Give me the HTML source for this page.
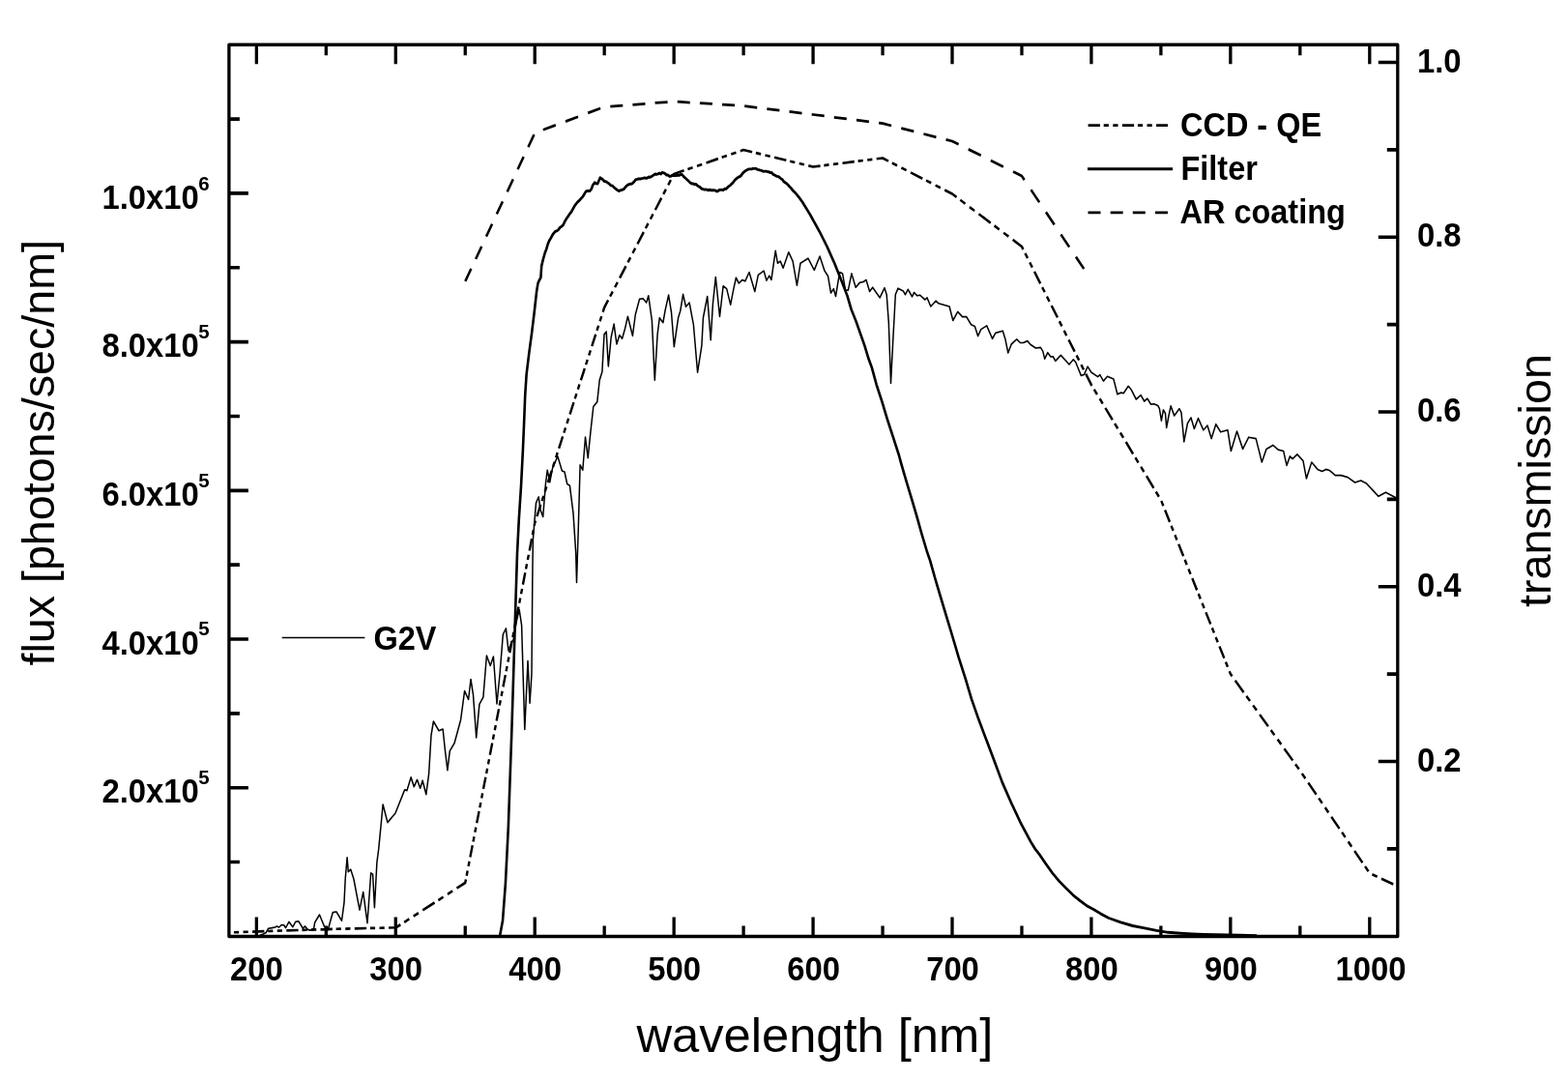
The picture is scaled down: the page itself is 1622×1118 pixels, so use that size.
<!DOCTYPE html>
<html><head><meta charset="utf-8"><title>Flux and transmission vs wavelength</title>
<style>html,body{margin:0;padding:0;background:#fff;}body{width:1622px;height:1118px;overflow:hidden;}svg{display:block}.b{font-family:"Liberation Sans",Arial,Helvetica,sans-serif;font-weight:bold;fill:#000}.r{font-family:"Liberation Sans",Arial,Helvetica,sans-serif;font-weight:normal;fill:#000}</style></head>
<body><svg width="1622" height="1118" viewBox="0 0 1622 1118">
<rect x="0" y="0" width="1622" height="1118" fill="#fff"/>
<g transform="scale(1 1.1050)" fill="none" stroke="#000" stroke-linejoin="round">
<polyline stroke-width="1.5" points="268.50,875.57 271.50,874.57 275.20,872.85 277.60,868.96 281.30,868.42 284.40,867.87 286.30,866.97 288.70,867.87 291.20,865.61 293.70,865.88 295.50,868.42 298.90,862.81 302.90,867.60 305.70,862.81 308.80,862.26 313.40,868.96 315.50,866.97 318.30,870.05 320.80,870.68 324.50,869.50 325.70,863.35 330.50,856.11 335.60,867.33 339.30,870.14 344.30,853.94 348.00,853.39 353.50,861.72 356.00,844.98 357.20,822.62 359.10,802.62 360.30,816.02 362.80,813.76 365.90,822.62 372.00,851.67 375.70,834.93 380.00,863.98 383.70,817.10 385.60,818.19 387.40,849.41 389.90,807.06 391.70,794.75 394.80,765.79 396.10,753.03 400.90,769.77 409.00,761.09 418.60,739.19 421.00,739.91 425.10,727.51 428.30,736.29 431.50,729.77 434.70,737.74 437.10,730.50 440.80,743.53 443.60,724.62 446.00,688.24 448.40,675.11 454.00,683.89 458.10,682.35 460.50,702.81 462.90,721.00 465.30,702.81 470.10,695.48 476.60,673.67 480.60,646.70 484.60,654.75 487.00,635.75 489.50,650.32 492.70,690.41 495.90,659.10 499.90,652.49 503.40,613.57 507.20,623.08 510.40,614.48 514.00,658.82 517.10,630.32 520.30,593.94 523.40,588.14 525.90,609.05 529.10,601.18 531.00,599.10 534.80,579.37 537.20,570.68 539.60,585.16 542.80,682.71 546.00,618.64 548.10,658.01 550.00,630.32 550.80,542.99 551.30,506.33 552.70,490.14 554.50,470.68 557.20,465.07 559.00,477.19 561.70,483.62 564.40,452.94 566.20,440.00 568.80,451.31 571.50,438.37 576.90,427.06 581.40,440.72 584.00,441.63 586.70,452.94 589.40,454.48 593.00,480.45 595.70,517.65 596.50,545.16 598.30,493.39 600.10,435.11 602.80,440.00 605.50,409.23 608.20,428.60 610.90,404.34 613.80,380.54 617.80,376.11 620.20,355.75 622.90,347.96 625.00,313.03 627.20,310.41 629.30,342.81 632.20,315.57 635.10,303.26 637.90,322.08 640.80,313.67 643.60,316.92 646.50,307.78 649.40,296.20 654.40,314.30 657.20,294.84 661.50,280.00 665.10,279.37 668.70,283.26 670.80,276.74 674.40,300.09 677.30,355.75 680.10,313.03 682.30,297.47 685.90,301.99 688.00,290.95 691.60,276.11 694.50,292.31 697.30,324.62 701.60,297.47 703.80,290.95 706.60,275.48 709.50,287.06 713.10,283.26 717.40,303.89 721.60,348.60 725.90,323.35 727.40,297.47 731.70,277.38 735.20,318.19 737.40,284.52 740.30,259.28 744.50,296.20 748.10,267.69 751.70,270.23 755.70,285.16 758.60,271.58 761.40,259.91 764.30,265.16 767.90,261.90 770.80,263.17 775.00,254.75 780.80,272.85 784.30,257.38 790.10,253.48 792.90,262.53 795.80,258.01 797.90,261.90 802.20,234.66 804.40,246.33 807.20,244.43 810.10,250.86 815.80,236.02 820.10,244.43 824.40,267.06 828.00,246.33 835.90,241.81 842.30,252.85 848.00,239.82 853.00,253.48 856.60,258.64 859.50,274.21 862.30,270.32 864.50,277.38 867.40,261.27 868.80,254.75 871.60,256.02 874.50,271.58 877.40,271.58 880.90,256.02 885.20,268.96 889.50,264.43 893.10,263.80 896.00,261.90 899.60,272.85 902.70,268.96 910.20,278.64 915.00,269.41 917.20,275.75 919.30,301.90 921.50,358.73 923.60,321.36 926.30,275.75 929.00,269.86 934.30,272.31 936.50,275.75 939.20,270.86 943.50,277.65 945.60,273.76 948.80,276.74 951.50,276.20 956.90,280.54 959.00,278.64 962.80,286.88 968.10,281.54 970.80,283.98 982.10,286.88 985.80,300.00 990.70,291.76 995.50,296.56 999.80,296.56 1004.60,303.89 1008.40,305.34 1011.60,314.57 1014.80,308.24 1020.70,304.89 1026.60,317.01 1029.80,311.67 1037.30,309.68 1040.00,317.74 1042.80,330.32 1046.20,322.17 1051.70,317.47 1055.40,320.81 1058.50,320.81 1062.80,319.10 1065.90,322.44 1071.40,325.79 1076.40,325.25 1078.80,328.87 1080.70,335.84 1083.80,330.05 1086.90,333.94 1089.30,333.67 1091.80,337.83 1097.30,332.49 1101.70,336.74 1106.00,341.18 1110.30,336.47 1112.70,338.91 1118.30,351.49 1121.40,350.68 1125.10,343.08 1128.80,348.42 1135.60,352.58 1137.80,350.77 1141.40,356.65 1145.50,352.31 1151.90,354.84 1155.90,369.05 1159.20,367.60 1162.40,367.96 1167.20,361.36 1170.40,364.98 1175.30,373.76 1180.10,369.77 1183.70,375.57 1186.90,373.03 1190.60,378.46 1193.80,378.10 1197.80,379.64 1199.40,382.53 1201.40,393.85 1203.40,383.62 1205.50,386.88 1206.70,400.36 1208.70,390.50 1211.10,380.00 1214.70,389.05 1219.90,382.53 1222.00,386.15 1224.80,413.48 1228.40,396.38 1232.00,390.86 1235.40,401.27 1239.50,391.49 1244.90,402.53 1249.00,398.19 1253.10,410.50 1257.80,397.01 1262.60,404.34 1270.00,402.53 1273.40,422.17 1279.50,403.71 1285.60,420.27 1291.70,409.23 1299.20,410.50 1305.30,432.58 1310.00,420.27 1316.80,416.65 1322.20,420.90 1327.70,422.17 1331.00,435.66 1334.40,427.06 1337.10,429.50 1341.90,425.16 1348.00,431.31 1351.40,447.87 1356.80,432.58 1362.90,439.28 1367.70,441.18 1371.70,439.28 1375.80,440.54 1381.20,444.89 1387.30,444.89 1394.10,446.70 1401.60,451.58 1407.70,449.77 1413.10,452.22 1426.00,464.52 1433.40,460.81 1444.50,466.06"/>
<polyline stroke-width="2.6" points="517.10,875.75 520.00,861.81 522.90,826.97 525.80,774.84 527.50,731.22 529.20,687.78 530.70,644.89 532.30,597.29 533.50,561.09 535.00,518.46 536.80,486.06 539.10,453.76 540.90,421.45 542.20,393.67 543.20,370.05 544.60,350.59 547.20,331.13 550.10,311.67 552.70,292.31 555.10,272.85 556.50,265.07 557.95,262.16 559.40,259.73 560.20,248.87 562.00,242.24 563.80,236.56 565.27,233.00 566.73,228.44 568.20,225.25 569.67,223.04 571.13,220.54 572.60,218.46 574.27,216.72 575.93,216.18 577.60,215.02 579.27,212.89 580.93,211.92 582.60,210.50 584.27,207.29 585.93,204.69 587.60,202.62 589.27,200.23 590.93,198.48 592.60,195.75 594.27,192.97 595.93,190.85 597.60,188.96 599.45,187.46 601.30,185.61 603.00,183.96 604.70,181.19 606.40,178.82 608.25,178.68 610.10,178.82 611.77,176.82 613.43,172.90 615.10,170.86 616.65,171.89 618.20,171.95 620.80,166.33 622.23,167.17 623.67,168.08 625.10,169.68 626.77,169.92 628.43,170.93 630.10,171.95 631.77,173.52 633.43,173.80 635.10,175.38 636.80,176.64 638.50,177.87 640.20,178.82 641.87,178.08 643.53,177.74 645.20,177.10 647.70,174.30 649.25,173.12 650.80,172.52 652.35,172.13 653.90,171.95 655.80,170.24 657.70,168.05 659.20,167.72 660.70,167.33 662.20,167.46 663.70,167.05 665.20,166.88 666.70,166.39 668.20,166.84 669.70,166.50 671.20,165.66 672.70,165.79 674.37,164.93 676.03,163.90 677.70,162.90 679.17,163.22 680.63,162.85 682.10,162.07 683.57,162.82 685.03,161.47 686.50,161.81 688.05,162.54 689.60,163.83 691.15,163.85 692.70,165.16 694.03,164.87 695.37,163.99 696.70,164.34 698.17,164.41 699.63,164.37 701.10,163.95 702.57,164.19 704.03,163.26 705.50,163.35 707.06,165.03 708.62,166.30 710.18,167.69 711.74,168.94 713.30,170.41 714.60,171.37 715.90,172.01 717.20,171.87 718.50,172.62 719.80,172.30 721.10,173.39 722.64,174.48 724.18,175.22 725.72,176.51 727.26,177.09 728.80,177.47 730.16,177.33 731.51,177.63 732.87,178.18 734.22,177.46 735.58,178.22 736.93,177.98 738.29,178.07 739.64,178.15 741.00,178.91 742.43,178.99 743.86,177.84 745.29,177.72 746.71,177.63 748.14,178.00 749.57,176.64 751.00,176.92 752.48,175.51 753.97,174.31 755.45,173.42 756.93,171.99 758.42,170.71 759.90,168.87 761.20,167.57 762.50,166.76 763.80,165.69 765.10,165.41 766.40,164.51 767.70,162.90 769.08,161.40 770.45,160.42 771.83,159.48 773.20,158.82 774.60,158.21 776.00,158.31 777.40,158.20 778.80,157.83 780.34,157.81 781.88,157.77 783.42,158.64 784.96,158.88 786.50,159.37 787.98,159.70 789.47,160.46 790.95,160.35 792.43,160.35 793.92,160.73 795.40,160.81 796.83,161.70 798.26,161.50 799.69,163.30 801.11,163.78 802.54,164.55 803.97,165.10 805.40,165.34 806.74,166.30 808.08,167.41 809.42,168.11 810.76,169.94 812.10,170.86 813.64,171.68 815.18,173.10 816.72,174.70 818.26,176.05 819.80,177.92 821.26,179.29 822.71,180.49 824.17,182.01 825.63,183.81 827.09,185.33 828.54,187.27 830.00,189.05 837.90,200.63 847.70,216.65 855.60,230.86 863.50,246.88 871.30,264.71 876.50,276.92 880.60,289.59 885.60,300.90 890.00,312.22 894.40,323.53 898.20,334.93 901.80,343.89 906.70,360.09 912.50,376.29 917.90,392.49 923.70,408.69 929.50,424.80 932.40,434.39 937.60,450.59 943.00,466.79 948.30,482.99 953.30,499.19 958.60,515.29 962.20,524.89 967.20,541.09 972.50,557.29 977.90,573.48 983.30,589.68 988.60,605.79 991.70,615.38 998.60,634.84 1005.00,654.30 1012.50,673.67 1020.60,693.12 1028.70,712.58 1036.70,732.13 1046.10,751.40 1055.50,769.59 1066.20,787.78 1070.70,794.48 1075.70,800.27 1081.50,808.05 1088.60,817.10 1095.80,824.89 1102.90,831.40 1110.10,837.83 1117.20,842.99 1124.40,847.87 1131.60,851.40 1138.70,855.29 1147.00,859.28 1159.30,863.17 1171.70,866.52 1184.00,868.69 1196.30,870.95 1208.60,872.67 1221.00,873.48 1233.30,874.12 1245.60,874.57 1258.00,874.84 1270.30,875.11 1282.60,875.20 1300.00,875.66"/>
<path stroke-width="2.4" d="M241.94 872.61L247.15 872.45M251.54 872.31L256.75 872.15M261.08 872.01L273.38 871.63M277.18 871.51L282.38 871.34M286.78 871.21L291.98 871.06M296.31 870.94L308.62 870.60M312.42 870.49L317.62 870.35M322.01 870.23L327.22 870.08M331.55 869.96L343.85 869.62M347.65 869.51L348.00 869.50L352.85 869.40M357.25 869.30L362.45 869.18M366.79 869.09L379.09 868.82M382.88 868.73L388.09 868.62M392.49 868.52L397.69 868.41M402.02 868.31L409.60 868.14L414.32 865.38M418.12 863.16L423.32 860.12M427.72 857.55L432.92 854.51M437.25 851.97L449.56 844.78M453.36 842.56L458.56 839.52M462.96 836.94L468.16 833.90M472.49 831.37L481.25 826.24L481.93 823.04M482.67 819.60L483.68 814.90M484.53 810.91L485.53 806.21M486.37 802.29L488.75 791.15M489.49 787.71L490.49 783.01M491.34 779.03L492.35 774.32M493.19 770.40L495.57 759.27M496.30 755.83L497.31 751.12M498.16 747.14L499.16 742.43M500.00 738.51L502.38 727.38M503.12 723.94L504.12 719.24M504.97 715.25L505.98 710.55M506.82 706.62L509.20 695.49M509.93 692.05L510.94 687.35M511.79 683.37L512.80 678.66M513.63 674.74L516.01 663.61M516.75 660.17L517.76 655.46M518.61 651.48L519.61 646.77M520.45 642.85L522.83 631.72M523.57 628.28L524.57 623.57M525.42 619.59L526.43 614.89M527.27 610.96L529.65 599.83M530.38 596.39L531.39 591.69M532.24 587.71L533.24 583.00M534.08 579.08L536.46 567.95M537.20 564.51L538.20 559.80M539.05 555.82L540.06 551.11M540.90 547.19L543.28 536.06M544.01 532.62L545.02 527.91M545.87 523.93L546.88 519.23M547.71 515.30L550.09 504.17M550.83 500.73L551.83 496.03M552.69 492.05L553.21 489.59L554.01 487.34M555.41 483.42L559.38 472.29M560.61 468.85L562.29 464.14M563.71 460.16L565.38 455.45M566.78 451.53L570.75 440.40M571.98 436.96L573.66 432.25M575.08 428.27L576.75 423.57M578.15 419.64L582.12 408.51M583.35 405.07L585.03 400.37M586.45 396.38L588.12 391.68M589.52 387.76L593.49 376.62M594.72 373.19L596.40 368.48M597.82 364.50L599.49 359.79M600.89 355.87L604.86 344.74M606.09 341.30L607.77 336.59M609.19 332.61L610.86 327.90M612.26 323.98L616.23 312.85M617.46 309.41L619.14 304.71M620.56 300.72L622.23 296.02M623.63 292.10L625.17 287.78L629.10 280.96M631.08 277.52L633.79 272.82M636.09 268.84L638.80 264.13M641.06 260.21L647.48 249.08M649.46 245.64L652.17 240.93M654.46 236.95L657.18 232.24M659.44 228.32L665.85 217.19M667.83 213.75L670.54 209.05M672.84 205.06L675.55 200.36M677.81 196.43L684.23 185.30M686.21 181.86L688.92 177.16M691.22 173.18L693.93 168.47M696.19 164.55L697.14 162.90L707.61 159.60M711.41 158.41L716.61 156.77M721.01 155.39L726.21 153.76M730.55 152.39L742.85 148.53M746.65 147.33L751.85 145.70M756.25 144.31L761.45 142.68M765.78 141.32L769.11 140.27L778.08 142.25M781.88 143.08L787.08 144.23M791.49 145.20L796.69 146.34M801.02 147.29L813.32 150.00M817.12 150.84L822.32 151.98M826.72 152.95L831.92 154.09M836.26 155.05L841.07 156.11L848.56 155.26M852.36 154.83L857.56 154.24M861.96 153.75L867.16 153.16M871.49 152.67L883.79 151.27M887.59 150.84L892.79 150.26M897.19 149.76L902.39 149.17M906.73 148.68L913.04 147.96L919.03 150.75M922.83 152.52L928.03 154.94M932.43 156.98L937.63 159.40M941.96 161.42L954.26 167.14M958.06 168.91L963.26 171.33M967.66 173.38L972.86 175.80M977.20 177.82L985.00 181.45L989.50 184.53M993.30 187.13L998.50 190.70M1002.90 193.71L1008.10 197.28M1012.43 200.25L1024.73 208.68M1028.53 211.28L1033.73 214.84M1038.13 217.86L1043.33 221.42M1047.67 224.39L1056.97 230.77L1058.48 233.48M1060.39 236.92L1063.01 241.62M1065.22 245.61L1067.84 250.31M1070.02 254.24L1076.21 265.37M1078.12 268.81L1080.74 273.51M1082.95 277.49L1085.57 282.20M1087.75 286.12L1093.94 297.25M1095.85 300.69L1098.47 305.40M1100.68 309.38L1103.30 314.09M1105.48 318.01L1111.67 329.14M1113.58 332.58L1116.20 337.29M1118.41 341.27L1121.03 345.97M1123.21 349.90L1128.93 360.18L1129.50 361.03M1131.79 364.47L1134.94 369.17M1137.60 373.15L1140.74 377.86M1143.36 381.78L1150.80 392.91M1153.10 396.35L1156.24 401.06M1158.91 405.04L1162.05 409.75M1164.67 413.67L1172.11 424.80M1174.41 428.24L1177.55 432.95M1180.21 436.93L1183.36 441.63M1185.98 445.56L1193.42 456.69M1195.71 460.13L1198.86 464.83M1201.31 468.81L1203.38 473.52M1205.12 477.44L1210.04 488.57M1211.56 492.01L1213.63 496.72M1215.39 500.70L1217.47 505.41M1219.21 509.33L1224.12 520.46M1225.64 523.90L1227.72 528.61M1229.48 532.59L1231.56 537.29M1233.29 541.22L1238.21 552.35M1239.73 555.79L1241.81 560.49M1243.57 564.48L1245.65 569.18M1247.38 573.10L1252.30 584.24M1253.82 587.67L1255.90 592.38M1257.66 596.36L1259.74 601.07M1261.47 604.99L1266.39 616.12M1267.91 619.56L1269.99 624.27M1271.75 628.25L1272.86 630.77L1274.60 632.95M1277.72 636.88L1286.57 648.01M1289.30 651.45L1293.04 656.15M1296.21 660.14L1299.95 664.84M1303.07 668.76L1311.92 679.90M1314.66 683.33L1318.40 688.04M1321.57 692.02L1325.31 696.73M1328.43 700.65L1337.28 711.78M1340.01 715.22L1343.75 719.93M1346.80 723.91L1350.33 728.62M1353.28 732.54L1361.63 743.67M1364.21 747.11L1367.74 751.81M1370.73 755.80L1374.26 760.50M1377.20 764.43L1385.55 775.56M1388.13 779.00L1391.66 783.70M1394.65 787.68L1398.18 792.39M1401.12 796.31L1409.47 807.44M1412.05 810.88L1415.58 815.59M1419.42 818.31L1424.62 820.52M1428.95 822.36L1441.25 827.58"/>
<path stroke-width="2.5" d="M481.28 263.29L487.37 251.53M492.13 242.34L498.23 230.58M502.99 221.39L509.08 209.63M513.84 200.44L519.93 188.67M524.69 179.49L530.79 167.72M535.55 158.53L541.64 146.77M546.40 137.58L552.49 125.82M561.83 121.51L574.83 117.09M584.99 113.64L597.99 109.23M608.14 105.78L621.14 101.37M631.29 99.58L644.29 98.68M654.44 97.98L667.44 97.08M677.59 96.37L690.59 95.48M700.75 95.23L713.75 95.96M723.90 96.54L736.90 97.27M747.05 97.85L760.05 98.58M770.20 99.22L783.20 100.69M793.35 101.84L806.35 103.31M816.51 104.46L829.51 105.93M839.66 107.08L841.07 107.24L852.66 108.58M862.81 109.75L875.81 111.26M885.96 112.43L898.96 113.94M909.11 115.11L913.04 115.57L922.11 117.65M932.27 119.99L945.27 122.98M955.42 125.32L968.42 128.31M978.57 130.65L985.00 132.13L991.57 135.10M1001.72 139.70L1014.72 145.58M1024.87 150.18L1037.87 156.06M1048.03 160.66L1056.97 164.71L1059.68 168.38M1066.48 177.56L1075.17 189.33M1081.97 198.52L1090.66 210.28M1097.46 219.47L1106.15 231.23M1112.95 240.42L1121.20 251.58"/>
<path stroke-width="3.30" d="M265.35 41.90v18.10M265.35 876.47v-18.10M337.32 41.90v9.95M337.32 876.47v-9.95M409.28 41.90v18.10M409.28 876.47v-18.10M481.25 41.90v9.95M481.25 876.47v-9.95M553.21 41.90v18.10M553.21 876.47v-18.10M625.17 41.90v9.95M625.17 876.47v-9.95M697.14 41.90v18.10M697.14 876.47v-18.10M769.11 41.90v9.95M769.11 876.47v-9.95M841.07 41.90v18.10M841.07 876.47v-18.10M913.04 41.90v9.95M913.04 876.47v-9.95M985.00 41.90v18.10M985.00 876.47v-18.10M1056.97 41.90v9.95M1056.97 876.47v-9.95M1128.93 41.90v18.10M1128.93 876.47v-18.10M1200.89 41.90v9.95M1200.89 876.47v-9.95M1272.86 41.90v18.10M1272.86 876.47v-18.10M1344.82 41.90v9.95M1344.82 876.47v-9.95M1416.79 41.90v18.10M1416.79 876.47v-18.10M236.90 806.83h11.00M236.90 737.29h20.00M236.90 667.74h11.00M236.90 598.19h20.00M236.90 528.64h11.00M236.90 459.10h20.00M236.90 389.55h11.00M236.90 320.00h20.00M236.90 250.45h11.00M236.90 180.90h20.00M236.90 111.36h11.00M1445.80 794.46h-11.00M1445.80 712.67h-20.00M1445.80 630.88h-11.00M1445.80 549.10h-20.00M1445.80 467.31h-11.00M1445.80 385.52h-20.00M1445.80 303.73h-11.00M1445.80 221.95h-20.00M1445.80 140.16h-11.00M1445.80 58.37h-20.00"/>
<rect x="236.90" y="41.90" width="1208.90" height="834.57" stroke-width="3.30"/>
<path stroke-width="2.4" stroke-dasharray="12.3 3.8 5.2 4.4 5.2 4.335" d="M1125.6 117.29H1208"/>
<path stroke-width="2.6" d="M1125 158.10H1213"/>
<path stroke-width="2.5" stroke-dasharray="13.0 10.152" d="M1125.5 198.91H1212"/>
<path stroke-width="1.4" d="M291.7 596.92H377.4"/>
</g>
<text class="b" font-size="32.0" text-anchor="middle" transform="translate(265.45 1014.00) scale(1.0250 1.1050)">200</text>
<text class="b" font-size="32.0" text-anchor="middle" transform="translate(409.68 1014.00) scale(1.0250 1.1050)">300</text>
<text class="b" font-size="32.0" text-anchor="middle" transform="translate(553.61 1014.00) scale(1.0250 1.1050)">400</text>
<text class="b" font-size="32.0" text-anchor="middle" transform="translate(697.64 1014.00) scale(1.0250 1.1050)">500</text>
<text class="b" font-size="32.0" text-anchor="middle" transform="translate(841.67 1014.00) scale(1.0250 1.1050)">600</text>
<text class="b" font-size="32.0" text-anchor="middle" transform="translate(985.50 1014.00) scale(1.0250 1.1050)">700</text>
<text class="b" font-size="32.0" text-anchor="middle" transform="translate(1129.43 1014.00) scale(1.0250 1.1050)">800</text>
<text class="b" font-size="32.0" text-anchor="middle" transform="translate(1273.36 1014.00) scale(1.0250 1.1050)">900</text>
<text class="b" font-size="32.0" text-anchor="middle" transform="translate(1417.89 1014.00) scale(1.0250 1.1050)">1000</text>
<text class="b" font-size="32.0" text-anchor="end" transform="translate(205.80 215.80) scale(1.0250 1.1050)">1.0x10</text>
<text class="b" font-size="20.5" transform="translate(205.20 196.50) scale(1.0000 1.0300)">6</text>
<text class="b" font-size="32.0" text-anchor="end" transform="translate(205.80 369.40) scale(1.0250 1.1050)">8.0x10</text>
<text class="b" font-size="20.5" transform="translate(205.20 350.10) scale(1.0000 1.0300)">5</text>
<text class="b" font-size="32.0" text-anchor="end" transform="translate(205.80 523.00) scale(1.0250 1.1050)">6.0x10</text>
<text class="b" font-size="20.5" transform="translate(205.20 503.70) scale(1.0000 1.0300)">5</text>
<text class="b" font-size="32.0" text-anchor="end" transform="translate(205.80 676.60) scale(1.0250 1.1050)">4.0x10</text>
<text class="b" font-size="20.5" transform="translate(205.20 657.30) scale(1.0000 1.0300)">5</text>
<text class="b" font-size="32.0" text-anchor="end" transform="translate(205.80 830.20) scale(1.0250 1.1050)">2.0x10</text>
<text class="b" font-size="20.5" transform="translate(205.20 810.90) scale(1.0000 1.0300)">5</text>
<text class="b" font-size="32.0" transform="translate(1466.00 797.80) scale(1.0250 1.1050)">0.2</text>
<text class="b" font-size="32.0" transform="translate(1466.00 617.00) scale(1.0250 1.1050)">0.4</text>
<text class="b" font-size="32.0" transform="translate(1466.00 436.20) scale(1.0250 1.1050)">0.6</text>
<text class="b" font-size="32.0" transform="translate(1466.00 255.40) scale(1.0250 1.1050)">0.8</text>
<text class="b" font-size="32.0" transform="translate(1466.00 74.60) scale(1.0250 1.1050)">1.0</text>
<text class="r" font-size="50.0" text-anchor="middle" transform="translate(842.90 1088.00) scale(1.0130 1.0000)">wavelength [nm]</text>
<text class="r" font-size="46.4" text-anchor="middle" transform="translate(56.00 468.30) rotate(-90) scale(1.0050 1.0000)">flux [photons/sec/nm]</text>
<text class="r" font-size="45.8" text-anchor="middle" transform="translate(1604.40 497.10) rotate(-90) scale(1.0190 1.0000)">transmission</text>
<text class="b" font-size="32.0" transform="translate(1221.00 141.00) scale(1.0150 1.0900)">CCD - QE</text>
<text class="b" font-size="32.0" transform="translate(1221.50 186.40) scale(1.0150 1.0900)">Filter</text>
<text class="b" font-size="32.0" transform="translate(1220.50 231.40) scale(1.0150 1.0900)">AR coating</text>
<text class="b" font-size="32.0" transform="translate(386.50 671.60) scale(1.0150 1.0900)">G2V</text>
</svg></body></html>
